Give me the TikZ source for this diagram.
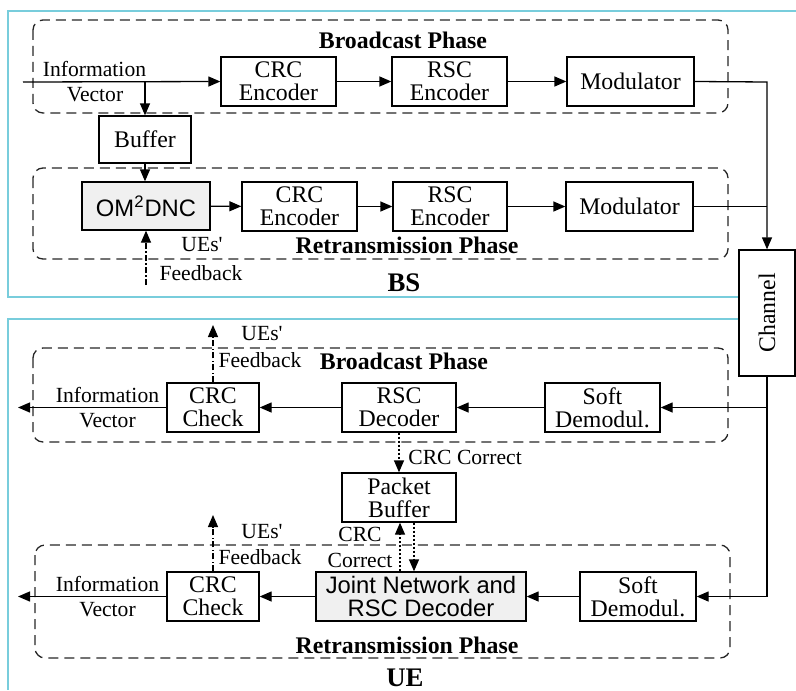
\documentclass[tikz,border=0pt]{standalone}
\usepackage{fontspec}
\setmainfont{Liberation Serif}
\newfontfamily\blocksans{Liberation Sans}
\usetikzlibrary{arrows.meta}
\definecolor{framecyan}{RGB}{120,205,220}
\definecolor{blockgray}{RGB}{240,240,240}
\begin{document}
\begin{tikzpicture}[x=0.5pt,y=-0.5pt,
  blk/.style 2 args={draw, line width=0.65pt, inner sep=0pt, align=center,
    minimum width=#1*0.5pt, minimum height=#2*0.5pt,
    font=\fontsize{11.9}{11.5}\selectfont},
  sansblk/.style={fill=blockgray, font=\blocksans\fontsize{11.9}{11.5}\selectfont},
  lbl/.style={inner sep=0pt, align=center, font=\fontsize{10.8}{12}\selectfont},
  phase/.style={inner sep=0pt, font=\bfseries\fontsize{11.9}{13}\selectfont},
  side/.style={inner sep=0pt, font=\bfseries\fontsize{13.4}{15}\selectfont},
  group/.style={draw=black!85, line width=0.65pt, dash pattern=on 5pt off 3pt, rounded corners=5pt},
  frame/.style={draw=framecyan, line width=0.7pt},
  link/.style={line width=0.65pt},
  arr/.style={link, -{Triangle[length=6pt,width=5pt]}},
  fb/.style={arr, dash pattern=on 3pt off 1.2pt on 0.6pt off 1.2pt},
  dotarr/.style={arr, dash pattern=on 1pt off 1pt},
]
\useasboundingbox (0,0) rectangle (796,690);

% ---------- blocks at the base station ----------
\node[blk={115}{49}] (crcE1) at (278.5,81.5) {CRC\\Encoder};
\node[blk={115}{49}] (rscE1) at (449.5,81.5) {RSC\\Encoder};
\node[blk={127}{49}] (mod1)  at (630.5,81.5) {Modulator};
\node[blk={92}{47}]  (buf)   at (145,139.5) {Buffer};
\node[blk={128}{48}, sansblk] (om) at (146,206) {OM\textsuperscript{2}DNC};
\node[blk={115}{49}] (crcE2) at (299.5,206.5) {CRC\\Encoder};
\node[blk={114}{49}] (rscE2) at (450,206.5) {RSC\\Encoder};
\node[blk={127}{49}] (mod2)  at (629.5,206.5) {Modulator};
\node[blk={56}{126}] (chan)  at (767,313) {\rotatebox{90}{Channel}};

% ---------- blocks at the user equipment ----------
\node[blk={115}{49}] (soft1) at (602.5,407.5) {Soft\\Demodul.};
\node[blk={114}{49}] (rscD)  at (399,407.5) {RSC\\Decoder};
\node[blk={92}{49}]  (crcC1) at (213,407.5) {CRC\\Check};
\node[blk={114}{49}] (pbuf)  at (399,497.5) {Packet\\Buffer};
\node[blk={210}{49}, sansblk] (joint) at (421,596.5) {Joint Network and\\RSC Decoder};
\node[blk={116}{49}] (soft2) at (638,596.5) {Soft\\Demodul.};
\node[blk={92}{49}]  (crcC2) at (213,596.5) {CRC\\Check};

% ---------- frames and phase groups ----------
\draw[frame] (796,11) -- (8,11) -- (8,297) -- (8,297 -| chan.west);
\draw[frame] (8,319 -| chan.west) -- (8,319) -- (8,690);
\draw[group] (33,20) rectangle (728,113);
\draw[group] (33,168) rectangle (728,259);
\draw[group] (33,348) rectangle (728,442);
\draw[group] (35,545) rectangle (730,658);

\node[phase] (bsbc) at (403,40) {Broadcast Phase};
\node[phase] (bsrt) at (407,245) {Retransmission Phase};
\node[side]  (bs)   at (404,283) {BS};
\node[phase] (uebc) at (404,361) {Broadcast Phase};
\node[phase] (uert) at (407,645) {Retransmission Phase};
\node[side]  (ue)   at (405,678) {UE};

% ---------- base station links ----------
\coordinate (src) at (23,82);
\coordinate (split) at (145,82);
\draw[arr] (src) -- (crcE1.west);
\draw[arr] (split) -- (buf.north);
\draw[arr] (crcE1) -- (rscE1);
\draw[arr] (rscE1) -- (mod1);
\draw[arr] (buf.south) -- (buf.south |- om.north);
\draw[arr] (om) -- (crcE2);
\draw[arr] (crcE2) -- (rscE2);
\draw[arr] (rscE2) -- (mod2);
\coordinate (bus1) at (767,82);
\coordinate (bus2) at (767,206.5);
\draw[arr] (mod1.east) -- (bus1) -- (chan.north);
\draw[link] (mod2.east) -- (bus2);
\coordinate (fbbs) at (146,285);
\draw[fb] (fbbs) -- (om.south);

\node[lbl] (iv1a) at (94.5,69) {Information};
\node[lbl] (iv1b) at (95,95) {Vector};
\node[lbl] (fbbsa) at (202,245) {UEs\textquotesingle};
\node[lbl] (fbbsb) at (201,273) {Feedback};

% ---------- user equipment links ----------
\coordinate (rx2) at (767,596.5);
\coordinate (rx1) at (767,407.5);
\draw[arr] (chan.south) -- (rx2) -- (soft2.east);
\draw[arr] (rx1) -- (soft1.east);
\draw[arr] (soft1) -- (rscD);
\draw[arr] (rscD) -- (crcC1);
\coordinate (out1) at (18,407.5);
\draw[arr] (crcC1.west) -- (out1);
\draw[arr] (soft2) -- (joint);
\draw[arr] (joint) -- (crcC2);
\coordinate (out2) at (18,596.5);
\draw[arr] (crcC2.west) -- (out2);

\coordinate (fbue1) at (213,325);
\coordinate (fbue2) at (213,515);
\draw[fb] (crcC1.north) -- (fbue1);
\draw[fb] (crcC2.north) -- (fbue2);

\draw[dotarr] (rscD.south) -- (pbuf.north);
\coordinate (pup) at ([xshift=0.5pt]pbuf.south);
\coordinate (pdn) at ([xshift=7.5pt]pbuf.south);
\draw[dotarr] (pup |- joint.north) -- (pup);
\draw[dotarr] (pdn) -- (pdn |- joint.north);

\node[lbl] (iv2a) at (107.5,395) {Information};
\node[lbl] (iv2b) at (107.5,421) {Vector};
\node[lbl] (iv3a) at (107.5,584) {Information};
\node[lbl] (iv3b) at (107.5,610) {Vector};
\node[lbl] (fbu1a) at (262,334) {UEs\textquotesingle};
\node[lbl] (fbu1b) at (260,360) {Feedback};
\node[lbl] (fbu2a) at (262,532) {UEs\textquotesingle};
\node[lbl] (fbu2b) at (260,557) {Feedback};
\node[lbl, anchor=west] (cc1) at (408,457) {CRC Correct};
\node[lbl] (cc2a) at (360,534) {CRC};
\node[lbl] (cc2b) at (360,560) {Correct};
\end{tikzpicture}
\end{document}
